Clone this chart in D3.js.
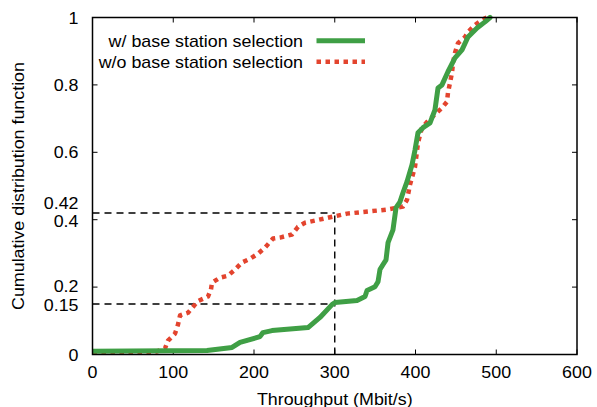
<!DOCTYPE html>
<html><head><meta charset="utf-8">
<script src="https://cdn.jsdelivr.net/npm/d3@7"></script>
<style>
body{margin:0;background:#fff;}
text{font-family:"Liberation Sans",Arial,Helvetica,sans-serif;fill:#000;}
</style></head>
<body><svg id="chart" width="597" height="407"></svg>
<script>
// Data (throughput Mbit/s, CDF)
const withX = [0,141.8,172.8,182.7,207.4,211.1,222.3,266.9,281.7,296.6,300.3,327.6,337.5,340,349.8,353.6,356,359.8,363.5,366,372.1,375.9,380.8,384.5,389.5,395.7,399.4,403.1,409.3,418,424.1,427.9,432.8,440.2,448.9,457.6,465,476.2,486.1,492.3];
const withY = [0.01,0.012,0.021,0.036,0.053,0.065,0.071,0.080,0.110,0.148,0.154,0.160,0.172,0.190,0.201,0.216,0.252,0.267,0.281,0.332,0.370,0.436,0.453,0.480,0.513,0.563,0.607,0.658,0.673,0.687,0.726,0.791,0.800,0.839,0.880,0.904,0.942,0.969,0.987,1.0];
const withoutX = [0,25,79.9,89.8,93.5,102.2,105.9,108.4,118.3,126.9,129.4,143,146.7,148,157.9,167.8,176.5,185.1,195,204.9,213.6,223.5,232.2,247,254.5,263.2,297.8,315.2,364.7,384.5,389.5,393.2,399.4,403.1,408,415.5,432.8,439,440.2,442.7,445.2,446.4,448.9,452.6,461.3,465,473.7,482.4,488.5];
const withoutY = [0,0.003,0.009,0.018,0.041,0.062,0.089,0.116,0.124,0.148,0.157,0.172,0.193,0.213,0.228,0.234,0.252,0.273,0.284,0.299,0.317,0.344,0.347,0.356,0.379,0.391,0.409,0.418,0.430,0.439,0.459,0.504,0.557,0.628,0.673,0.693,0.732,0.750,0.776,0.806,0.836,0.865,0.895,0.924,0.942,0.957,0.978,0.993,1.0];
const xTicks = [0,100,200,300,400,500,600];
const yTicks = [0,0.2,0.4,0.6,0.8,1];
const yExtraLabels = [0.15,0.42];
const seriesNames = ["w/ base station selection","w/o base station selection"];
const markX = 300, markLow = 0.15, markHigh = 0.42;

const svg = d3.select("#chart");
const L=92.5, R=577, T=17.5, B=354.5;
const x = d3.scaleLinear().domain([0,600]).range([L,R]);
const y = d3.scaleLinear().domain([0,1]).range([B,T]);
const green="#3f9f45", red="#e3442e";
const fs = 17, sx = 1.05;

function label(parent, tx, ty, str, anchor, rot){
  return parent.append("text")
    .attr("transform",`translate(${tx},${ty})${rot?" rotate("+rot+")":""} scale(${sx},1)`)
    .attr("text-anchor",anchor).attr("font-size",fs).text(str);
}

svg.append("clipPath").attr("id","clip").append("rect")
  .attr("x",L).attr("y",T-3).attr("width",R-L).attr("height",B-T+3);

// guide dashed lines
const g = svg.append("g").attr("stroke","#000").attr("stroke-width",1.4).attr("stroke-dasharray","7,5").attr("fill","none");
g.append("line").attr("x1",x(0)).attr("x2",x(markX)).attr("y1",y(markHigh)).attr("y2",y(markHigh));
g.append("line").attr("x1",x(0)).attr("x2",x(markX)).attr("y1",y(markLow)).attr("y2",y(markLow));
g.append("line").attr("x1",x(markX)).attr("x2",x(markX)).attr("y1",y(0)).attr("y2",y(markHigh));

// axes ticks (inward, mirrored)
const axG = svg.append("g").attr("stroke","#000").attr("stroke-width",1);
xTicks.forEach(v=>{
  axG.append("line").attr("x1",x(v)).attr("x2",x(v)).attr("y1",B).attr("y2",B-5);
  axG.append("line").attr("x1",x(v)).attr("x2",x(v)).attr("y1",T).attr("y2",T+5);
});
yTicks.forEach(v=>{
  axG.append("line").attr("x1",L).attr("x2",L+5).attr("y1",y(v)).attr("y2",y(v));
  axG.append("line").attr("x1",R).attr("x2",R-5).attr("y1",y(v)).attr("y2",y(v));
});

// curves
const line = d3.line().x(d=>x(d[0])).y(d=>y(d[1])).curve(d3.curveLinear);
const dataWith = withX.map((v,i)=>[v,withY[i]]);
const dataWithout = withoutX.map((v,i)=>[v,withoutY[i]]);
const cg = svg.append("g").attr("clip-path","url(#clip)");
cg.append("path").datum(dataWithout).attr("d",line).attr("fill","none")
  .attr("stroke",red).attr("stroke-width",4.5).attr("stroke-dasharray","4.5,4.5").attr("stroke-linejoin","round");
cg.append("path").datum(dataWith).attr("d",line).attr("fill","none")
  .attr("stroke",green).attr("stroke-width",5).attr("stroke-linejoin","round").attr("stroke-linecap","round");

// frame
svg.append("rect").attr("x",L).attr("y",T).attr("width",R-L).attr("height",B-T)
  .attr("fill","none").attr("stroke","#000").attr("stroke-width",1.5);

// tick labels
const tl = svg.append("g");
xTicks.forEach(d=>label(tl, x(d), 377.5, d, "middle"));
const yOff = {0.42:-10, 0.4:1, 0.2:-1, 0.15:1};
yTicks.concat(yExtraLabels).forEach(d=>label(tl, 78.5, y(d)+6+(yOff[d]||0), d, "end"));

// axis titles
label(svg, (L+R)/2, 404.5, "Throughput (Mbit/s)", "middle");
label(svg, 24, (T+B)/2, "Cumulative distribution function", "middle", -90);

// legend
const lg = svg.append("g");
[[seriesNames[0],green,null,40.7],[seriesNames[1],red,"4.5,4.5",61.7]].forEach(([name,col,dash,yy])=>{
  label(lg, 303, yy+6, name, "end");
  const ln = lg.append("line").attr("x1",316.5).attr("x2",365).attr("y1",yy).attr("y2",yy)
    .attr("stroke",col).attr("stroke-width",dash?4.5:5);
  if(dash) ln.attr("stroke-dasharray",dash);
});
</script></body></html>
